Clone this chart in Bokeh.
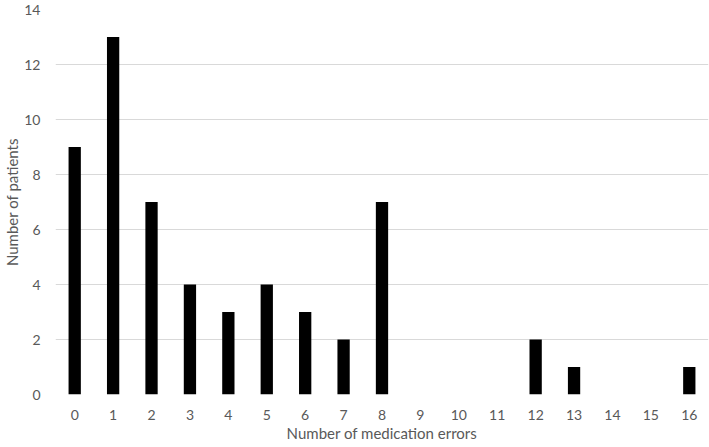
from bokeh.plotting import figure
from bokeh.models import FixedTicker, Range1d
from bokeh.embed import file_html
from bokeh.resources import INLINE

errors = list(range(17))
patients = [9, 13, 7, 4, 3, 4, 3, 2, 7, 0, 0, 0, 2, 1, 0, 0, 1]
y_ticks = [0, 2, 4, 6, 8, 10, 12, 14]

FONT = "Lato"
TXT = "#595959"

p = figure(width=709, height=447, output_backend="svg", toolbar_location=None,
           x_range=Range1d(-0.5, 16.5), y_range=Range1d(0, 14),
           min_border_left=0, min_border_right=1, min_border_top=9, min_border_bottom=53)
p.outline_line_color = None
p.background_fill_color = "white"

p.vbar(x=errors, top=patients, width=0.32, fill_color="black", line_color=None)

for ax in (p.xaxis[0], p.yaxis[0]):
    ax.axis_line_color = None
    ax.major_tick_line_color = None
    ax.minor_tick_line_color = None
    ax.major_label_text_font = FONT
    ax.major_label_text_font_size = "14px"
    ax.major_label_text_color = TXT
    ax.axis_label_text_font = FONT
    ax.axis_label_text_font_size = "15px"
    ax.axis_label_text_color = TXT
    ax.axis_label_text_font_style = "normal"

p.xaxis.ticker = FixedTicker(ticks=errors)
p.yaxis.ticker = FixedTicker(ticks=y_ticks)
p.xaxis.axis_label = "Number of medication errors"
p.yaxis.axis_label = "Number of patients"
p.xaxis.major_label_standoff = 9
p.xaxis.axis_label_standoff = 1
p.yaxis.major_label_standoff = 9
p.yaxis.axis_label_standoff = 0

p.xgrid.grid_line_color = None
p.ygrid.grid_line_color = "#d9d9d9"
p.ygrid.grid_line_width = 1

open("out.html", "w").write(file_html(p, INLINE))
